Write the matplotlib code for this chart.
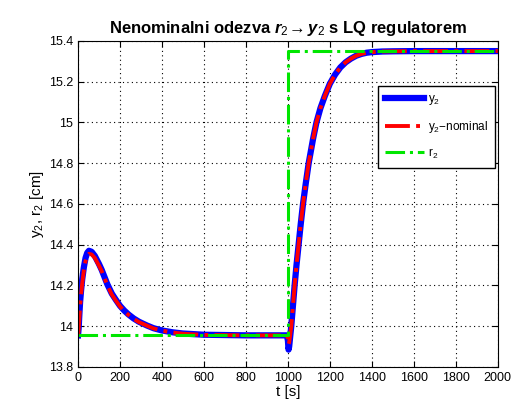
import numpy as np
import matplotlib.pyplot as plt

plt.rcParams['font.family'] = ['Liberation Sans', 'DejaVu Sans']
plt.rcParams['mathtext.fontset'] = 'custom'
plt.rcParams['mathtext.rm'] = 'Liberation Sans'
plt.rcParams['mathtext.it'] = 'Liberation Sans:italic:bold'
plt.rcParams['mathtext.bf'] = 'Liberation Sans:bold'

# odecitane hodnoty z grafu
t = [0, 3, 6, 10, 15, 20, 28, 36, 44, 52, 65, 80, 100, 113, 140, 161, 180,
     200, 220, 241, 265, 290, 329, 360, 400, 450, 500, 600, 800, 995,
     1000, 1003, 1006, 1010, 1016, 1024, 1032, 1041, 1051, 1061, 1072, 1085,
     1099, 1120, 1136, 1155, 1176, 1200, 1225, 1250, 1275, 1300, 1325, 1350,
     1375, 1400, 1450, 1500, 1600, 2000]
y2 = [13.955, 13.99, 14.05, 14.12, 14.18, 14.23, 14.29, 14.335, 14.36, 14.37,
      14.365, 14.345, 14.305, 14.276, 14.205, 14.16, 14.13,
      14.1, 14.077, 14.057, 14.038, 14.022, 14.003, 13.99, 13.979, 13.97,
      13.964, 13.958, 13.955, 13.955,
      13.93, 13.885, 13.9, 13.94, 14.0, 14.1, 14.2, 14.3, 14.4, 14.5, 14.6, 14.7,
      14.8, 14.92, 15.0, 15.07, 15.13, 15.19, 15.235, 15.27, 15.295, 15.313,
      15.327, 15.336, 15.342, 15.345, 15.348, 15.349, 15.35, 15.35]
y2_nom = [13.955, 13.98, 14.03, 14.1, 14.16, 14.21, 14.275, 14.32, 14.345, 14.355,
          14.352, 14.335, 14.297, 14.27, 14.2, 14.155, 14.126,
          14.097, 14.074, 14.055, 14.036, 14.02, 14.002, 13.989, 13.978, 13.969,
          13.963, 13.957, 13.955, 13.955,
          13.94, 13.91, 13.92, 13.95, 14.0, 14.1, 14.2, 14.3, 14.4, 14.5, 14.6, 14.7,
          14.8, 14.92, 15.0, 15.07, 15.13, 15.19, 15.235, 15.27, 15.295, 15.313,
          15.327, 15.336, 15.342, 15.345, 15.348, 15.349, 15.35, 15.35]
t_r = [0, 1000, 2000]
r2 = [13.955, 15.35, 15.35]

fig = plt.figure(figsize=(5.18, 4.05), dpi=100)
ax = fig.add_axes([0.1506, 0.094, 0.8104, 0.805])

ax.plot(t, y2, color='b', lw=4.5, label='y$_2$')
ax.plot(t, y2_nom, color='r', lw=2.8, ls='-.', label='y$_2$\u2212nominal')
ax.plot(t_r, r2, color='#00e600', lw=2.2, ls='-.', drawstyle='steps-post', label='r$_2$')

ax.set_xlim(0, 2000)
ax.set_ylim(13.8, 15.4)
ax.set_xticks(np.arange(0, 2001, 200))
ax.set_yticks([13.8, 14, 14.2, 14.4, 14.6, 14.8, 15, 15.2, 15.4])
ax.set_yticklabels(['13.8', '14', '14.2', '14.4', '14.6', '14.8', '15', '15.2', '15.4'])
ax.tick_params(direction='in', top=True, right=True, labelsize=9, length=4)
ax.grid(True, color='k', ls=(0, (1, 3)), lw=0.8)

ax.set_title('Nenominalni odezva $r_2\\!\\rightarrow y_2$ s LQ regulatorem',
             fontsize=12, fontweight='bold', pad=6)
ax.set_xlabel('t [s]', fontsize=11, labelpad=1)
ax.set_ylabel('y$_2$, r$_2$ [cm]', fontsize=11, labelpad=2)

leg = ax.legend(loc='upper right', bbox_to_anchor=(0.993, 0.862), fontsize=8.5,
                fancybox=False, framealpha=1, edgecolor='k', handlelength=3.3,
                borderpad=0.6, labelspacing=1.0, handletextpad=0.3,
                borderaxespad=0)
leg.get_frame().set_linewidth(1.0)

fig.savefig('out.png', dpi=100)
